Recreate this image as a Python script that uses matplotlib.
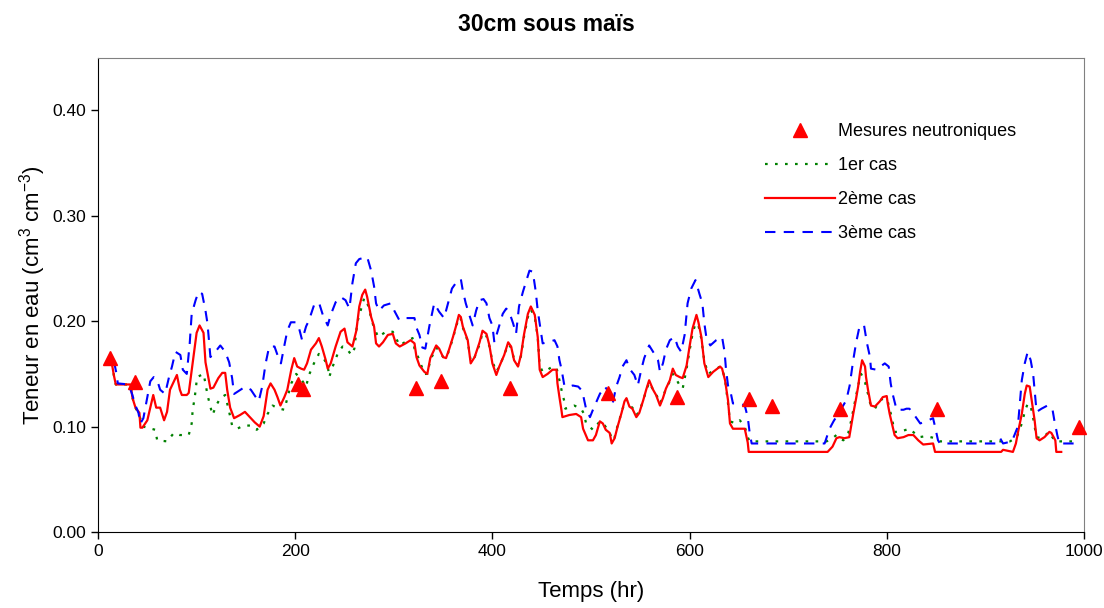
import matplotlib
matplotlib.use("Agg")
import matplotlib.pyplot as plt

plt.rcParams['font.family'] = ['Liberation Sans', 'DejaVu Sans']
plt.rcParams['mathtext.default'] = 'regular'

# neutron probe measurements
meas_t = [12, 37, 203, 208, 323, 348, 418, 517, 587, 660, 684, 753, 851, 995]
meas_v = [0.165, 0.142, 0.140, 0.136, 0.137, 0.143, 0.137, 0.132, 0.128, 0.126, 0.120, 0.117, 0.117, 0.100]

# 2eme cas (red)
red_t = [14, 16, 18, 33, 35, 38, 42, 43, 45, 50, 56, 59, 63, 67, 70, 73, 80, 83, 85, 90, 92, 97, 100, 103,
         107, 109, 114, 117, 122, 126, 129, 131, 134, 138, 144, 149, 154, 159, 164, 168, 172, 175, 179, 182,
         185, 189, 192, 196, 199, 202, 206, 209, 212, 216, 221, 224, 227, 231, 233, 236, 241, 246, 250, 253,
         258, 262, 265, 268, 271, 273, 277, 280, 282, 285, 289, 294, 299, 302, 306, 312, 317, 321, 323, 326,
         331, 334, 337, 343, 346, 350, 353, 356, 360, 363, 366, 368, 370, 375, 378, 382, 387, 390, 394, 397,
         400, 404, 407, 412, 416, 419, 422, 426, 429, 432, 436, 439, 443, 446, 448, 451, 456, 461, 465, 466,
         468, 470, 471, 478, 485, 490, 492, 497, 502, 505, 509, 512, 515, 519, 521, 524, 527, 531, 534, 536,
         539, 542, 546, 549, 553, 556, 559, 563, 566, 570, 573, 576, 580, 583, 586, 590, 593, 597, 600, 603,
         607, 609, 612, 615, 619, 624, 631, 633, 636, 639, 641, 644, 656, 659, 660, 740, 745, 749, 752, 757,
         762, 766, 769, 771, 773, 775, 778, 779, 781, 784, 788, 793, 796, 800, 801, 803, 806, 808, 811, 817,
         822, 827, 832, 837, 847, 849, 916, 918, 928, 931, 933, 937, 940, 942, 945, 947, 950, 952, 955, 960,
         965, 967, 971, 972, 977]
red_v = [0.160, 0.149, 0.140, 0.140, 0.127, 0.118, 0.113, 0.099, 0.099, 0.106, 0.130, 0.118, 0.118, 0.106,
         0.114, 0.135, 0.149, 0.135, 0.130, 0.130, 0.132, 0.168, 0.189, 0.196, 0.189, 0.161, 0.136, 0.137,
         0.146, 0.151, 0.151, 0.135, 0.118, 0.108, 0.111, 0.114, 0.109, 0.104, 0.100, 0.110, 0.135, 0.141,
         0.135, 0.128, 0.120, 0.128, 0.135, 0.154, 0.165, 0.157, 0.155, 0.154, 0.160, 0.173, 0.179, 0.184,
         0.176, 0.163, 0.155, 0.160, 0.176, 0.190, 0.193, 0.180, 0.176, 0.191, 0.214, 0.225, 0.230, 0.223,
         0.204, 0.195, 0.179, 0.176, 0.180, 0.187, 0.188, 0.179, 0.176, 0.179, 0.182, 0.179, 0.166, 0.158,
         0.152, 0.150, 0.165, 0.177, 0.174, 0.166, 0.165, 0.173, 0.185, 0.195, 0.206, 0.204, 0.195, 0.182,
         0.160, 0.166, 0.180, 0.191, 0.188, 0.177, 0.160, 0.149, 0.157, 0.168, 0.180, 0.176, 0.163, 0.157,
         0.168, 0.187, 0.207, 0.214, 0.206, 0.185, 0.154, 0.147, 0.150, 0.154, 0.154, 0.141, 0.128, 0.116,
         0.109, 0.111, 0.112, 0.109, 0.098, 0.087, 0.087, 0.092, 0.105, 0.103, 0.097, 0.094, 0.084, 0.089,
         0.100, 0.113, 0.124, 0.127, 0.119, 0.117, 0.109, 0.113, 0.125, 0.135, 0.144, 0.135, 0.130, 0.120,
         0.127, 0.136, 0.144, 0.155, 0.149, 0.147, 0.146, 0.158, 0.176, 0.193, 0.206, 0.199, 0.185, 0.160,
         0.147, 0.152, 0.157, 0.155, 0.144, 0.125, 0.103, 0.098, 0.098, 0.085, 0.076, 0.076, 0.081, 0.089,
         0.090, 0.089, 0.090, 0.112, 0.127, 0.138, 0.152, 0.163, 0.157, 0.147, 0.135, 0.120, 0.119, 0.124,
         0.128, 0.129, 0.122, 0.112, 0.100, 0.092, 0.089, 0.090, 0.092, 0.092, 0.087, 0.083, 0.084, 0.076,
         0.076, 0.078, 0.076, 0.084, 0.094, 0.112, 0.131, 0.139, 0.138, 0.125, 0.106, 0.089, 0.087, 0.090,
         0.095, 0.094, 0.087, 0.076, 0.076]

# 1er cas (green)
green_t = [14, 16, 18, 33, 35, 38, 42, 46, 58, 60, 70, 77, 83, 92, 95, 96, 98, 100.5, 107, 109, 111, 114,
           116, 121, 124, 129, 133, 136, 141, 148, 155, 161, 165, 168, 172, 177, 184, 189, 192, 196, 201, 206,
           211, 214, 219, 224, 228, 233, 234.5, 238, 243, 248, 253, 257, 260, 263, 267, 270, 273, 278.5, 284,
           292, 299, 306, 311, 319, 321, 326, 331, 334, 337, 343, 346, 350, 353, 356, 360, 363, 366, 368, 370,
           375, 378, 382, 387, 390, 394, 397, 400, 404, 407, 412, 416, 419, 422, 426, 429, 432, 436, 439, 443,
           446, 448, 451, 456, 461, 465, 468, 471, 473, 474, 483, 490, 493, 495, 502, 509, 514, 519, 522, 524,
           527, 531, 534, 536, 539, 542, 546, 549, 553, 556, 559, 563, 566, 570, 573, 576, 580, 583, 586, 590,
           593, 597, 600, 603, 606, 609, 612, 615, 619, 624, 631, 633, 636, 639, 641, 647, 651, 656, 659, 661,
           739, 745, 749, 752, 756, 761, 764, 768, 771, 774, 778, 781, 784, 788, 793, 798, 801, 805, 808, 813,
           823, 833, 840, 849, 854, 925, 932, 937, 940, 943, 946, 948, 950, 952, 957, 965, 968, 971, 993]
green_v = [0.160, 0.149, 0.140, 0.140, 0.127, 0.118, 0.110, 0.100, 0.097, 0.087, 0.086, 0.094, 0.092, 0.092,
           0.103, 0.116, 0.127, 0.147, 0.150, 0.141, 0.130, 0.119, 0.111, 0.122, 0.127, 0.130, 0.114, 0.101,
           0.098, 0.101, 0.101, 0.097, 0.101, 0.103, 0.112, 0.120, 0.117, 0.116, 0.127, 0.141, 0.150, 0.145,
           0.138, 0.149, 0.160, 0.169, 0.166, 0.158, 0.147, 0.157, 0.169, 0.176, 0.173, 0.168, 0.174, 0.199,
           0.212, 0.222, 0.218, 0.198, 0.185, 0.190, 0.190, 0.177, 0.180, 0.184, 0.174, 0.163, 0.150, 0.150,
           0.163, 0.175, 0.172, 0.166, 0.165, 0.172, 0.184, 0.194, 0.204, 0.202, 0.194, 0.181, 0.162, 0.166,
           0.178, 0.189, 0.186, 0.176, 0.162, 0.152, 0.157, 0.168, 0.178, 0.175, 0.164, 0.158, 0.167, 0.185,
           0.204, 0.211, 0.204, 0.185, 0.158, 0.152, 0.154, 0.157, 0.156, 0.144, 0.131, 0.124, 0.117, 0.120,
           0.117, 0.112, 0.103, 0.097, 0.105, 0.101, 0.094, 0.087, 0.090, 0.101, 0.113, 0.123, 0.126, 0.120,
           0.118, 0.111, 0.114, 0.125, 0.134, 0.142, 0.135, 0.131, 0.122, 0.128, 0.136, 0.143, 0.150, 0.146,
           0.139, 0.136, 0.155, 0.172, 0.188, 0.198, 0.196, 0.183, 0.162, 0.150, 0.153, 0.157, 0.155, 0.145,
           0.122, 0.105, 0.103, 0.106, 0.100, 0.090, 0.086, 0.086, 0.089, 0.092, 0.089, 0.087, 0.094, 0.106,
           0.125, 0.139, 0.150, 0.142, 0.131, 0.119, 0.117, 0.125, 0.127, 0.124, 0.109, 0.095, 0.095, 0.098,
           0.090, 0.091, 0.089, 0.086, 0.086, 0.090, 0.103, 0.114, 0.122, 0.119, 0.111, 0.100, 0.090, 0.089,
           0.095, 0.090, 0.086, 0.086]

# 3eme cas (blue)
blue_t = [14, 17, 19, 20, 31, 34.5, 38, 41, 43, 46, 50, 53, 56.5, 60, 63, 68, 72, 75, 78.5, 83.5, 86, 90,
          93, 95, 99, 102, 105.6, 109, 111, 114, 119, 124, 129, 133, 136, 138, 144.5, 149.5, 155, 160, 163,
          166.5, 170, 173.6, 179, 182, 185.5, 189, 192, 195.6, 200.7, 204, 207, 211, 214, 219, 224, 228, 233,
          236, 241, 246, 251, 255, 258, 261.5, 265, 273, 277, 280, 282, 285, 290, 297, 300.5, 305.6, 311, 321,
          322.5, 326, 329, 332, 336, 341, 346, 351, 355, 359, 365, 368, 370, 373, 376.6, 380, 383.5, 387, 391,
          394, 397, 400, 402, 407, 410.5, 414, 417, 421, 424, 427, 431, 434, 437.6, 441, 444, 446, 449, 451,
          456, 463, 466, 468, 470, 473, 478, 481.5, 487, 490, 492, 495, 499, 502, 509, 514, 518, 522, 525.6,
          529, 532, 536, 539, 544, 547.5, 551, 554, 559, 563, 568, 570, 573, 576, 580, 584.8, 588, 591.5, 595,
          598, 601.7, 606, 610, 613, 615, 617, 621, 627, 633, 635.5, 637, 639, 642, 644, 651, 656, 659, 661,
          663, 737, 742, 746, 752, 759, 762.4, 766, 769, 772.6, 777, 780, 783, 784, 789.5, 798, 802, 804, 806,
          810, 817, 820, 823, 828, 834, 842, 847, 849, 852, 854, 912, 915, 918, 927, 933, 937, 940, 943, 946,
          948.5, 950, 952, 957, 963, 968, 970, 973, 975, 993]
blue_v = [0.160, 0.158, 0.149, 0.141, 0.140, 0.131, 0.120, 0.113, 0.103, 0.108, 0.128, 0.143, 0.147, 0.144,
          0.135, 0.131, 0.147, 0.157, 0.171, 0.168, 0.154, 0.150, 0.179, 0.207, 0.220, 0.228, 0.226, 0.210,
          0.198, 0.166, 0.171, 0.177, 0.171, 0.161, 0.146, 0.131, 0.135, 0.138, 0.135, 0.128, 0.124, 0.138,
          0.160, 0.176, 0.176, 0.168, 0.160, 0.177, 0.191, 0.199, 0.199, 0.193, 0.182, 0.195, 0.201, 0.215,
          0.218, 0.206, 0.196, 0.206, 0.218, 0.223, 0.220, 0.212, 0.236, 0.255, 0.259, 0.261, 0.248, 0.233,
          0.217, 0.210, 0.215, 0.217, 0.210, 0.201, 0.203, 0.203, 0.195, 0.187, 0.175, 0.174, 0.195, 0.217,
          0.209, 0.203, 0.217, 0.231, 0.239, 0.240, 0.229, 0.217, 0.206, 0.196, 0.210, 0.220, 0.221, 0.217,
          0.203, 0.196, 0.180, 0.196, 0.207, 0.212, 0.209, 0.198, 0.188, 0.214, 0.228, 0.237, 0.248, 0.247,
          0.228, 0.210, 0.191, 0.179, 0.180, 0.182, 0.176, 0.163, 0.155, 0.139, 0.138, 0.139, 0.138, 0.135,
          0.130, 0.117, 0.109, 0.116, 0.131, 0.138, 0.133, 0.122, 0.138, 0.147, 0.157, 0.163, 0.155, 0.149,
          0.139, 0.154, 0.165, 0.177, 0.171, 0.163, 0.152, 0.160, 0.173, 0.182, 0.185, 0.176, 0.171, 0.187,
          0.217, 0.231, 0.239, 0.226, 0.217, 0.198, 0.185, 0.177, 0.182, 0.185, 0.171, 0.154, 0.139, 0.131,
          0.122, 0.122, 0.120, 0.109, 0.094, 0.084, 0.084, 0.098, 0.105, 0.114, 0.125, 0.139, 0.163, 0.180,
          0.196, 0.196, 0.179, 0.166, 0.155, 0.154, 0.160, 0.157, 0.141, 0.131, 0.116, 0.116, 0.117, 0.117,
          0.111, 0.103, 0.106, 0.108, 0.100, 0.087, 0.084, 0.084, 0.089, 0.084, 0.086, 0.100, 0.144, 0.160,
          0.171, 0.163, 0.150, 0.135, 0.114, 0.117, 0.120, 0.117, 0.106, 0.092, 0.084, 0.084]

fig = plt.figure(figsize=(11.04, 6.08), dpi=100)
ax = fig.add_axes([0.0888, 0.125, 0.893, 0.78])

ax.plot(meas_t, meas_v, linestyle='none', marker='^', markersize=10, color='#ff0000',
        label='Mesures neutroniques', zorder=5, clip_on=False)
ax.plot(green_t, green_v, color='#008000', linewidth=1.6, dashes=(1.2, 3.3), label='1er cas')
ax.plot(red_t, red_v, color='#ff0000', linewidth=1.6, label='2ème cas')
ax.plot(blue_t, blue_v, color='#0000ff', linewidth=1.5, dashes=(5, 4), label='3ème cas')

ax.set_xlim(0, 1000)
ax.set_ylim(0, 0.45)
ax.set_xticks([0, 200, 400, 600, 800, 1000])
ax.set_yticks([0.0, 0.1, 0.2, 0.3, 0.4])
ax.set_yticklabels(['0.00', '0.10', '0.20', '0.30', '0.40'])
ax.tick_params(labelsize=12.5, direction='out', length=5, width=1)

for side in ['top', 'right']:
    ax.spines[side].set_color('#808080')
for side in ['left', 'bottom']:
    ax.spines[side].set_color('black')

fig.suptitle('30cm sous maïs', x=0.4946, y=0.959, va='center', fontsize=16.5, fontweight='bold')
ax.set_xlabel('Temps (hr)', fontsize=16, labelpad=16)
ax.set_ylabel('Teneur en eau (cm$^{3}$ cm$^{-3}$)', fontsize=16, labelpad=3)

ax.legend(loc='upper left', bbox_to_anchor=(0.669, 0.878), frameon=False, fontsize=13,
          handlelength=3.9, handletextpad=0.15, labelspacing=0.95, borderaxespad=0)

fig.savefig('out.png', dpi=100)
